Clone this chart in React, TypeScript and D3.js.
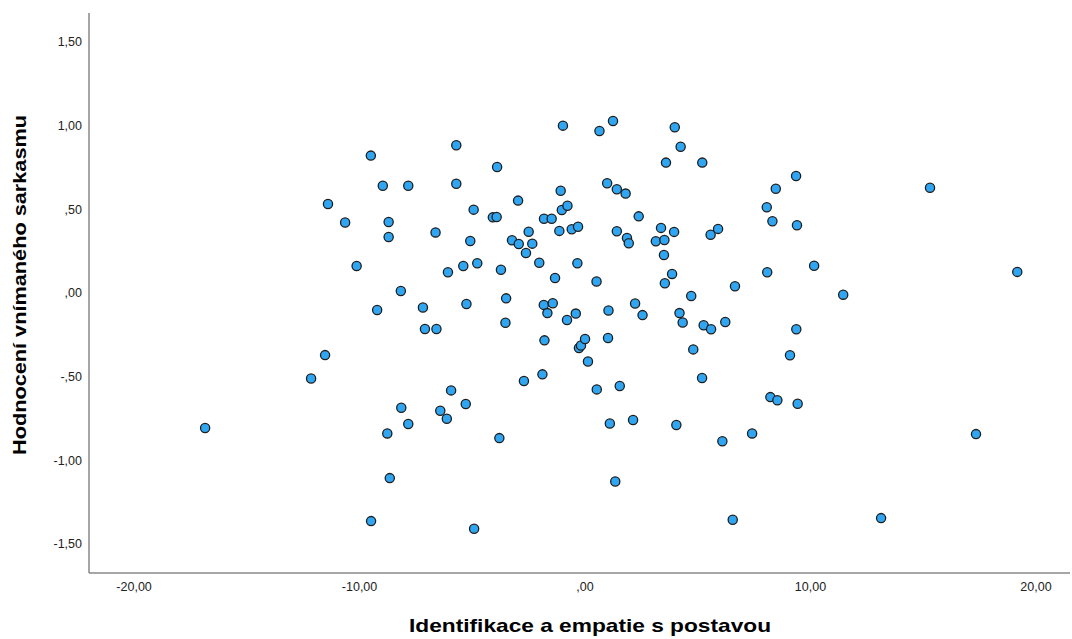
import React from 'react';
import * as d3 from 'd3';

const xValues = [
  -16.85, -12.15, -11.53, -11.40, -10.64, -10.13, -9.50, -9.22, -9.49, -8.97,
  -8.71, -8.71, -8.77, -8.66, -8.17, -8.15, -7.84, -7.84, -7.19, -7.10,
  -6.63, -6.59, -6.42, -6.13, -6.08, -5.94, -5.71, -5.71, -5.40, -5.26,
  -5.29, -5.09, -4.94, -4.92, -4.78, -4.09, -3.92, -3.90, -3.73, -3.80,
  -3.50, -3.53, -3.24, -2.97, -2.94, -2.71, -2.62, -2.50, -2.34, -2.03,
  -1.89, -1.82, -1.83, -1.80, -1.67, -1.48, -1.43, -1.33, -1.14, -1.08,
  -1.03, -0.98, -0.80, -0.78, -0.59, -0.41, -0.34, -0.31, -0.27, -0.18,
  0.00, 0.13, 0.52, 0.51, 0.64, 0.98, 1.02, 1.04, 1.10, 1.24,
  1.41, 1.34, 1.41, 1.54, 1.80, 1.86, 1.94, 2.13, 2.22, 2.38,
  2.55, 3.14, 3.37, 3.52, 3.50, 3.54, 3.59, 3.86, 3.95, 3.98,
  4.05, 4.19, 4.24, 4.33, 4.71, 4.80, 5.19, 5.20, 5.26, 5.59,
  5.57, 5.90, 6.09, 6.22, 6.65, 6.55, 7.41, 8.08, 8.06, 8.22,
  8.31, 8.46, 8.53, 9.09, 9.36, 9.40, 9.37, 9.43, 10.16, 11.45,
  13.13, 15.30, 17.34, 19.17,
];

const yValues = [
  -0.807, -0.511, -0.371, 0.532, 0.421, 0.161, 0.821, -0.102, -1.363, 0.641,
  0.424, 0.335, -0.839, -1.106, 0.012, -0.686, -0.783, 0.641, -0.087, -0.215,
  0.362, -0.215, -0.704, -0.751, 0.124, -0.582, 0.883, 0.653, 0.161, -0.066,
  -0.663, 0.311, 0.498, -1.409, 0.178, 0.452, 0.454, 0.753, 0.139, -0.867,
  -0.032, -0.178, 0.315, 0.552, 0.293, -0.526, 0.239, 0.366, 0.295, 0.181,
  -0.486, 0.444, -0.071, -0.283, -0.120, 0.444, -0.061, 0.090, 0.371, 0.611,
  0.496, 1.000, -0.161, 0.521, 0.381, -0.123, 0.178, 0.396, -0.329, -0.314,
  -0.275, -0.409, -0.576, 0.069, 0.968, 0.656, -0.269, -0.105, -0.780, 1.028,
  0.620, -1.126, 0.369, -0.556, 0.594, 0.329, 0.297, -0.759, -0.063, 0.458,
  -0.132, 0.309, 0.389, 0.317, 0.227, 0.058, 0.779, 0.114, 0.365, 0.990,
  -0.789, -0.120, 0.874, -0.176, -0.018, -0.337, -0.508, 0.779, -0.193, -0.217,
  0.348, 0.383, -0.886, -0.173, 0.040, -1.355, -0.839, 0.124, 0.512, -0.622,
  0.429, 0.623, -0.641, -0.372, 0.699, 0.405, -0.217, -0.662, 0.163, -0.010,
  -1.345, 0.629, -0.843, 0.126,
];

const xTicks = [-20, -10, 0, 10, 20];
const yTicks = [-1.5, -1, -0.5, 0, 0.5, 1, 1.5];
const xTitle = 'Identifikace a empatie s postavou';
const yTitle = 'Hodnocení vnímaného sarkasmu';

const W = 1072;
const H = 639;
const plot = { left: 89, right: 1068, top: 13, bottom: 573 };

function fmt(v: number): string {
  let s = Math.abs(v).toFixed(2).replace('.', ',');
  if (s.startsWith('0')) s = s.slice(1);
  return (v < 0 ? '-' : '') + s;
}

export default function App() {
  const x = d3.scaleLinear().domain([-22, 21.42]).range([plot.left, plot.right]);
  const y = d3.scaleLinear().domain([-1.673, 1.673]).range([plot.bottom, plot.top]);
  const pts = xValues.map((xv, i) => ({ xv, yv: yValues[i] }));
  const font = '"Liberation Sans", Arial, sans-serif';
  return (
    <svg
      width={W}
      height={H}
      style={{ position: 'absolute', left: 0, top: 0, background: '#fff' }}
      fontFamily={font}
    >
      <rect x={0} y={0} width={W} height={H} fill="#fff" />
      <line x1={plot.left} y1={plot.top} x2={plot.left} y2={plot.bottom} stroke="#888" strokeWidth={1.5} />
      <line x1={plot.left} y1={plot.bottom} x2={plot.right + 2} y2={plot.bottom} stroke="#888" strokeWidth={1.5} />
      {yTicks.map((t) => (
        <text key={'y' + t} x={82} y={y(t)} dy="0.35em" textAnchor="end" fontSize={12.5} fill="#222">
          {fmt(t)}
        </text>
      ))}
      {xTicks.map((t) => (
        <text key={'x' + t} x={x(t)} y={591} textAnchor="middle" fontSize={12.5} fill="#222">
          {fmt(t)}
        </text>
      ))}
      <text
        x={590}
        y={632}
        textAnchor="middle"
        fontSize={19}
        fontWeight="bold"
        fill="#000"
        textLength={362}
        lengthAdjust="spacingAndGlyphs"
      >
        {xTitle}
      </text>
      <text
        transform={`translate(26, 285) rotate(-90)`}
        textAnchor="middle"
        fontSize={19}
        fontWeight="bold"
        fill="#000"
        textLength={340}
        lengthAdjust="spacingAndGlyphs"
      >
        {yTitle}
      </text>
      {pts.map((p, i) => (
        <circle key={i} cx={x(p.xv)} cy={y(p.yv)} r={4.6} fill="#30a6f2" stroke="#1e1e1e" strokeWidth={1.3} />
      ))}
    </svg>
  );
}
